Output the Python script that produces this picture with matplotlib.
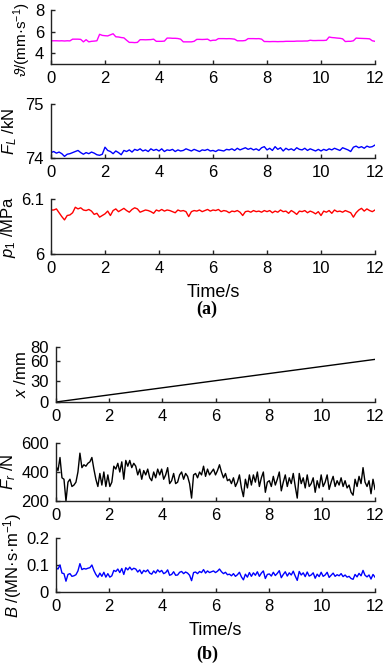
import numpy as np
import matplotlib
matplotlib.use("Agg")
import matplotlib.pyplot as plt

plt.rcParams['font.family'] = ['Liberation Sans', 'DejaVu Sans']
plt.rcParams['mathtext.fontset'] = 'custom'
plt.rcParams['mathtext.rm'] = 'Liberation Sans'
plt.rcParams['mathtext.it'] = 'Liberation Sans:italic'
plt.rcParams['mathtext.bf'] = 'Liberation Sans:bold'

# ---------------- data ----------------
velocity = [5.15, 5.15, 5.15, 5.14, 5.15, 5.13, 5.15, 5.14,
            5.3, 5.3, 5.3, 5.28,
            5.05, 5.25, 5.05, 5.1, 5.12, 5.15,
            5.75, 5.65, 5.62, 5.6, 5.7, 5.8, 5.52, 5.5, 5.45, 5.42,
            5.2, 5.0, 5.0, 4.98, 5.0,
            5.25, 5.25, 5.24, 5.25, 5.26, 5.3,
            5.1, 5.1, 5.1, 5.12,
            5.4, 5.4, 5.38, 5.38, 5.36, 5.3,
            5.05, 5.05, 5.05, 5.05, 5.1,
            5.28, 5.28, 5.27, 5.28, 5.3,
            5.15, 5.2, 5.2,
            5.35, 5.35, 5.35, 5.34, 5.35, 5.33, 5.3,
            5.15, 5.15, 5.15, 5.18,
            5.35, 5.35, 5.35, 5.34, 5.35, 5.3,
            5.08, 5.08, 5.07, 5.08, 5.08, 5.07, 5.08, 5.08, 5.1, 5.1, 5.1, 5.1,
            5.12, 5.12, 5.12, 5.13, 5.13,
            5.2, 5.17, 5.17, 5.18, 5.18, 5.18, 5.2,
            5.5, 5.45, 5.43, 5.4, 5.38, 5.33,
            5.08, 5.1, 5.1, 5.15,
            5.4, 5.38, 5.37, 5.36, 5.35, 5.33,
            5.15, 5.1]

load_force = [74.1, 74.12, 74.09, 74.11, 74.08, 74.03, 74.07, 74.08, 74.1, 74.12,
              74.14, 74.1, 74.07, 74.1, 74.08, 74.11, 74.09, 74.06, 74.05, 74.07,
              74.2, 74.14, 74.12, 74.08, 74.13, 74.1, 74.06, 74.14, 74.12, 74.15,
              74.11, 74.16, 74.14, 74.17, 74.13, 74.15, 74.12, 74.17, 74.14, 74.16,
              74.13, 74.17, 74.12, 74.15, 74.14, 74.16, 74.12, 74.15, 74.13, 74.14,
              74.17, 74.15, 74.13, 74.16, 74.14, 74.12, 74.15, 74.14, 74.16, 74.13,
              74.14, 74.12, 74.15, 74.14, 74.13, 74.16, 74.15, 74.17, 74.14, 74.18,
              74.15, 74.17, 74.19, 74.16, 74.18, 74.15, 74.17, 74.14, 74.19, 74.21,
              74.15, 74.18, 74.14, 74.21, 74.16, 74.19, 74.13, 74.18, 74.15, 74.17,
              74.14, 74.19, 74.16, 74.15, 74.18, 74.14, 74.17, 74.15, 74.13, 74.16,
              74.13, 74.16, 74.14, 74.17, 74.15, 74.18, 74.16, 74.14, 74.19, 74.17,
              74.15, 74.12, 74.2, 74.22, 74.19, 74.21, 74.18, 74.22, 74.2, 74.21,
              74.24]

pressure = [6.08, 6.08, 6.082, 6.075, 6.068, 6.062, 6.07, 6.071, 6.075, 6.085,
            6.082, 6.084, 6.08, 6.079, 6.081, 6.078, 6.072, 6.074, 6.067, 6.07,
            6.073, 6.078, 6.07, 6.079, 6.082, 6.077, 6.08, 6.083, 6.079, 6.076,
            6.081, 6.084, 6.082, 6.076, 6.078, 6.08, 6.079, 6.077, 6.074, 6.08,
            6.078, 6.081, 6.078, 6.08, 6.079, 6.077, 6.075, 6.08, 6.078, 6.079,
            6.077, 6.068, 6.077, 6.079, 6.078, 6.08, 6.077, 6.079, 6.081, 6.078,
            6.08, 6.079, 6.081, 6.077, 6.079, 6.078, 6.075, 6.078, 6.077, 6.079,
            6.076, 6.07, 6.077, 6.078, 6.076, 6.079, 6.077, 6.078, 6.076, 6.079,
            6.077, 6.079, 6.075, 6.078, 6.076, 6.08, 6.077, 6.078, 6.074, 6.079,
            6.076, 6.072, 6.078, 6.077, 6.079, 6.075, 6.078, 6.076, 6.073, 6.077,
            6.07, 6.078, 6.076, 6.079, 6.074, 6.08, 6.077, 6.078, 6.076, 6.079,
            6.077, 6.075, 6.067, 6.075, 6.08, 6.083, 6.078, 6.082, 6.079, 6.077,
            6.08]

disp_time = [0, 12]
displacement = [0, 62]

friction = [440, 410, 500, 360, 350, 200, 330, 350, 300, 310,
            330, 400, 530, 430, 450, 440, 460, 470, 500, 420,
            350, 300, 390, 310, 400, 300, 380, 300, 330, 440,
            420, 460, 400, 470, 350, 480, 440, 480, 430, 460,
            440, 380, 420, 350, 410, 380, 420, 360, 340, 400,
            360, 420, 380, 420, 350, 380, 430, 320, 340, 390,
            320, 330, 380, 400, 350, 390, 370, 320, 220, 380,
            390, 360, 400, 380, 440, 370, 420, 380, 400, 420,
            380, 410, 450, 400, 360, 390, 340, 350, 320, 360,
            300, 330, 380, 290, 230, 350, 290, 380, 310, 380,
            330, 400, 300, 360, 400, 260, 330, 340, 300, 370,
            310, 350, 400, 270, 330, 380, 300, 360, 320, 390,
            300, 220, 390, 320, 360, 290, 380, 300, 320, 360,
            260, 340, 290, 380, 300, 330, 380, 280, 330, 370,
            300, 340, 310, 360, 300, 340, 290, 310, 260, 240,
            350, 300, 370, 320, 430, 330, 300, 340, 250, 350, 280]

damping = [0.09, 0.085, 0.1, 0.07, 0.068, 0.04, 0.065, 0.068, 0.058, 0.06,
           0.064, 0.078, 0.105, 0.083, 0.087, 0.085, 0.088, 0.09, 0.1, 0.08,
           0.065, 0.055, 0.07, 0.058, 0.073, 0.055, 0.068, 0.055, 0.06, 0.08,
           0.076, 0.085, 0.072, 0.087, 0.065, 0.09, 0.082, 0.092, 0.082, 0.088,
           0.085, 0.074, 0.082, 0.068, 0.08, 0.075, 0.082, 0.07, 0.066, 0.078,
           0.07, 0.082, 0.074, 0.08, 0.068, 0.072, 0.082, 0.062, 0.065, 0.075,
           0.062, 0.063, 0.073, 0.076, 0.068, 0.074, 0.07, 0.062, 0.042, 0.072,
           0.074, 0.068, 0.076, 0.072, 0.083, 0.07, 0.078, 0.072, 0.075, 0.078,
           0.072, 0.077, 0.085, 0.075, 0.068, 0.073, 0.064, 0.066, 0.06, 0.068,
           0.058, 0.064, 0.073, 0.056, 0.045, 0.066, 0.055, 0.072, 0.058, 0.071,
           0.062, 0.075, 0.058, 0.07, 0.078, 0.05, 0.065, 0.067, 0.059, 0.073,
           0.061, 0.069, 0.079, 0.053, 0.065, 0.075, 0.059, 0.071, 0.063, 0.077,
           0.059, 0.043, 0.076, 0.063, 0.071, 0.057, 0.074, 0.059, 0.063, 0.071,
           0.051, 0.066, 0.057, 0.073, 0.058, 0.063, 0.073, 0.054, 0.062, 0.07,
           0.058, 0.064, 0.06, 0.068, 0.057, 0.063, 0.055, 0.058, 0.05, 0.047,
           0.065, 0.056, 0.069, 0.06, 0.08, 0.062, 0.056, 0.063, 0.048, 0.065, 0.055]

x_ticks = [0, 2, 4, 6, 8, 10, 12]

# ---------------- figure ----------------
W, H = 383, 664
fig = plt.figure(figsize=(W / 100, H / 100), dpi=100)


def box(left, top, right, bottom):
    return [left / W, 1 - bottom / H, (right - left) / W, (bottom - top) / H]


def style(ax, ylim, yticks, yticklabels, ylabel, lab_px, left_px, width_px,
          lab_size=12, lab_y=0.5):
    ax.set_xlim(0, 12)
    ax.set_ylim(*ylim)
    ax.set_xticks(x_ticks)
    ax.set_yticks(yticks)
    ax.set_yticklabels(yticklabels)
    for s in ['top', 'right']:
        ax.spines[s].set_visible(False)
    for s in ['left', 'bottom']:
        ax.spines[s].set_linewidth(1.0)
        ax.spines[s].set_color('#222222')
    ax.tick_params(direction='in', length=3, width=1, labelsize=12, pad=5,
                   colors='#222222', labelcolor='black')
    ax.set_ylabel(ylabel, fontsize=lab_size)
    # lab_px: desired horizontal centre of the label glyphs in pixels
    ax.yaxis.set_label_coords((lab_px + 7 - left_px) / width_px, lab_y)


lw = 1.0

ax1 = fig.add_axes(box(51, 10, 375, 64))
t = np.linspace(0, 12, len(velocity))
ax1.plot(t, velocity, color='#ff00ff', lw=lw)
style(ax1, (3, 8), [4, 6, 8], ['4', '6', '8'], r'$\vartheta$/(mm·s$^{-1}$)', 26, 51, 324,
      lab_size=11, lab_y=0.45)

ax2 = fig.add_axes(box(51, 104, 375, 158))
t = np.linspace(0, 12, len(load_force))
ax2.plot(t, load_force, color='#0000ff', lw=lw)
style(ax2, (74, 75), [74, 75], ['74', '75'], r'$F_L$ /kN', 12, 51, 324)

ax3 = fig.add_axes(box(51, 199, 375, 254))
t = np.linspace(0, 12, len(pressure))
ax3.plot(t, pressure, color='#ff0000', lw=lw)
style(ax3, (6, 6.1), [6, 6.1], ['6', '6.1'], r'$p_1$ /MPa', 11, 51, 324)
ax3.set_xlabel('Time/s', fontsize=13, labelpad=6)

ax4 = fig.add_axes(box(56, 347, 375, 402))
ax4.plot(disp_time, displacement, color='black', lw=lw)
style(ax4, (0, 80), [0, 30, 60, 80], ['0', '30', '60', '80'], r'$x$ /mm', 22, 56, 319)

ax5 = fig.add_axes(box(56, 443, 375, 501))
t = np.linspace(0, 12, len(friction))
ax5.plot(t, friction, color='black', lw=lw)
style(ax5, (200, 600), [200, 400, 600], ['200', '400', '600'], r'$F_r$ /N', 11, 56, 319)

ax6 = fig.add_axes(box(56, 538, 375, 592))
t = np.linspace(0, 12, len(damping))
ax6.plot(t, damping, color='#0000ff', lw=lw)
style(ax6, (0, 0.2), [0, 0.1, 0.2], ['0', '0.1', '0.2'], r'$B$ /(MN·s·m$^{-1}$)', 17, 56, 319)
ax6.set_xlabel('Time/s', fontsize=13, labelpad=6)

fig.text(207 / W, 1 - 309 / H, '(a)', ha='center', va='center', fontsize=13,
         fontweight='bold', family='Liberation Serif')
fig.text(207 / W, 1 - 654 / H, '(b)', ha='center', va='center', fontsize=13,
         fontweight='bold', family='Liberation Serif')

fig.savefig('out.png', dpi=100)
